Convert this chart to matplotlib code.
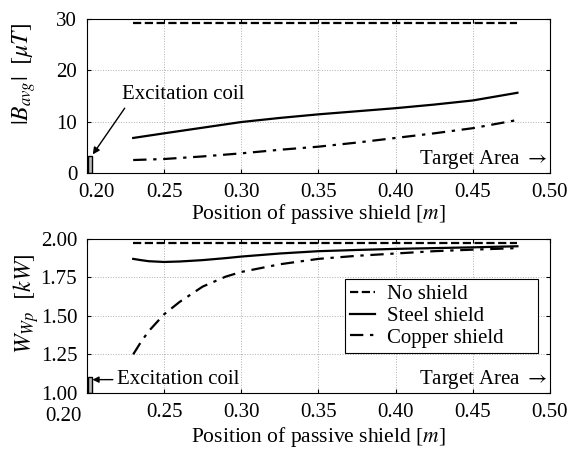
import numpy as np
import matplotlib.pyplot as plt
from matplotlib.patches import Rectangle
from matplotlib.transforms import ScaledTranslation

plt.rcParams['font.family'] = ['Liberation Serif', 'DejaVu Serif']
plt.rcParams['mathtext.fontset'] = 'stix'
plt.rcParams['font.size'] = 15

# top plot: |B_avg| in uT vs shield position
x_top = [0.23, 0.25, 0.275, 0.30, 0.325, 0.35, 0.375, 0.40, 0.425, 0.45, 0.479]
b_none = [29.1, 29.1, 29.1, 29.1, 29.1, 29.1, 29.1, 29.1, 29.1, 29.1, 29.1]
b_steel = [6.8, 7.7, 8.8, 9.9, 10.7, 11.4, 12.0, 12.6, 13.3, 14.1, 15.6]
b_copper = [2.5, 2.7, 3.2, 3.8, 4.5, 5.1, 5.9, 6.8, 7.7, 8.7, 10.3]

# bottom plot: W_Wp in kW vs shield position
x_bot = [0.23, 0.235, 0.24, 0.25, 0.26, 0.275, 0.29, 0.30, 0.325, 0.35, 0.375, 0.40, 0.425, 0.45, 0.479]
w_none = [1.972] * len(x_bot)
w_steel = [1.87, 1.862, 1.855, 1.85, 1.853, 1.862, 1.875, 1.885, 1.905, 1.92, 1.928, 1.935, 1.94, 1.945, 1.952]
w_copper = [1.25, 1.33, 1.40, 1.51, 1.59, 1.69, 1.755, 1.785, 1.835, 1.87, 1.89, 1.905, 1.92, 1.93, 1.94]

xticks = [0.20, 0.25, 0.30, 0.35, 0.40, 0.45, 0.50]
ls_copper = (0, (6, 3, 1.5, 3))

fig = plt.figure(figsize=(5.68, 4.49), dpi=100)
ax1 = fig.add_axes([0.153, 0.615, 0.815, 0.343])
ax2 = fig.add_axes([0.153, 0.125, 0.815, 0.343])

for ax in (ax1, ax2):
    ax.set_xlim(0.2, 0.5)
    ax.set_xticks(xticks)
    ax.set_xticklabels(['%.2f' % t for t in xticks])
    ax.grid(True, color='#b0b0b0', linestyle=':', linewidth=0.7)
    ax.tick_params(direction='in', top=True, right=True, length=3, pad=7, labelsize=15)
    ax.set_xlabel('Position of passive shield [$m$]', fontsize=15.5)
    ax.text(0.995, 0.085, r'Target Area $\rightarrow$', transform=ax.transAxes,
            ha='right', va='center', fontsize=15)
ax1.xaxis.set_label_coords(0.5, -0.19)
ax2.xaxis.set_label_coords(0.5, -0.21)

# first x tick label sits off its tick in the original
lab1 = ax1.get_xticklabels()[0]
lab1.set_transform(lab1.get_transform() + ScaledTranslation(0.10, 0, fig.dpi_scale_trans))
lab2 = ax2.get_xticklabels()[0]
lab2.set_transform(lab2.get_transform() + ScaledTranslation(-0.23, -0.04, fig.dpi_scale_trans))

# top
ax1.plot(x_top, b_none, 'k--', lw=1.6)
ax1.plot(x_top, b_steel, 'k-', lw=1.6)
ax1.plot(x_top, b_copper, color='k', linestyle=ls_copper, lw=1.6)
ax1.set_ylim(0, 30)
ax1.set_yticks([0, 10, 20, 30])
ax1.set_ylabel(r'$|B_{avg}|$  $[\mu T]$', fontsize=17)
ax1.yaxis.set_label_coords(-0.105, 0.64)
ax1.add_patch(Rectangle((0.2005, 0), 0.0025, 3.2, facecolor='#bbbbbb', edgecolor='k', lw=1))
ax1.text(0.2625, 15.3, 'Excitation coil', ha='center', va='center', fontsize=15)
ax1.annotate('', xy=(0.2038, 3.6), xytext=(0.2245, 12.6),
             arrowprops=dict(arrowstyle='-|>', color='k', lw=1, shrinkA=0, shrinkB=0,
                             mutation_scale=10))

# bottom
ax2.plot(x_bot, w_none, 'k--', lw=1.6, label='No shield')
ax2.plot(x_bot, w_steel, 'k-', lw=1.6, label='Steel shield')
ax2.plot(x_bot, w_copper, color='k', linestyle=ls_copper, lw=1.6, label='Copper shield')
ax2.set_ylim(1.0, 2.0)
ax2.set_yticks([1.00, 1.25, 1.50, 1.75, 2.00])
ax2.set_yticklabels(['1.00', '1.25', '1.50', '1.75', '2.00'])
ax2.set_ylabel(r'$W_{Wp}$  $[kW]$', fontsize=17)
ax2.yaxis.set_label_coords(-0.10, 0.58)
ax2.add_patch(Rectangle((0.2005, 1.0), 0.0025, 0.1, facecolor='#bbbbbb', edgecolor='k', lw=1))
ax2.annotate('', xy=(0.2036, 1.086), xytext=(0.2168, 1.086),
             arrowprops=dict(arrowstyle='-|>', color='k', lw=1, shrinkA=0, shrinkB=0,
                             mutation_scale=9))
ax2.text(0.2194, 1.086, 'Excitation coil', ha='left', va='center', fontsize=15)
leg = ax2.legend(loc='lower left', bbox_to_anchor=(0.557, 0.26, 0.417, 0.45), mode='expand',
                 fontsize=15, handlelength=1.2, fancybox=False, framealpha=1, edgecolor='k',
                 borderpad=0.25, labelspacing=0.1, handletextpad=0.6, borderaxespad=0)
leg.get_frame().set_linewidth(0.8)

fig.savefig('out.png', dpi=100)
